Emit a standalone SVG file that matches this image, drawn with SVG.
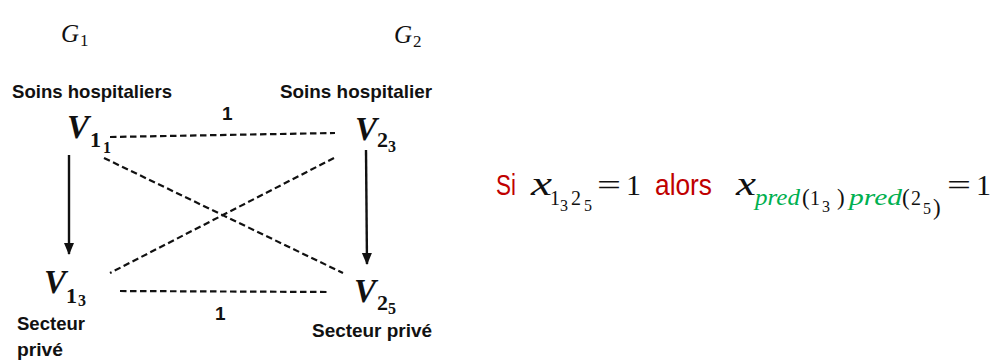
<svg xmlns="http://www.w3.org/2000/svg" width="997" height="361" viewBox="0 0 997 361">
<style>
.lab{font-family:"Liberation Sans",Arial,sans-serif;font-weight:bold;font-size:19px;fill:#111}
.m{font-family:"Liberation Serif","Times New Roman",serif;fill:#111}
.v{font-style:italic;font-weight:bold;font-size:33px}
.sb{font-weight:bold;font-size:22px}
.ssb{font-weight:bold;font-size:16px}
.g{font-style:italic;font-size:25px}
.gs{font-size:17px}
.red{font-family:"Liberation Sans",Arial,sans-serif;font-size:29px;fill:#c00000}
.gr{font-style:italic;fill:#00b050;font-size:23px}
.s1{font-size:20px}
.s2{font-size:16px}
.p{font-size:23px}
.dash{stroke:#111;stroke-width:2.2;stroke-dasharray:6.5 3.5;fill:none}
.arr{stroke:#111;stroke-width:2.4;fill:none}
</style>
<defs>
<marker id="ah" markerUnits="userSpaceOnUse" markerWidth="12" markerHeight="14" refX="11" refY="5" orient="auto" viewBox="0 0 12 10">
<path d="M0,0 L12,5 L0,10 z" fill="#111"/>
</marker>
</defs>
<g id="titles">
<text class="m g" x="61" y="42">G</text><text class="m gs" x="80" y="46">1</text>
<text class="m g" x="394" y="43">G</text><text class="m gs" x="413" y="47">2</text>
</g>
<g id="connectors">
<line class="dash" x1="110" y1="137" x2="335" y2="133"/>
<line class="dash" x1="120" y1="291" x2="330" y2="292"/>
<line class="dash" x1="104" y1="158" x2="343" y2="273"/>
<line class="dash" x1="334" y1="158" x2="110" y2="273"/>
<line class="arr" x1="69" y1="155" x2="69" y2="254" marker-end="url(#ah)"/>
<line class="arr" x1="366" y1="150" x2="367" y2="264" marker-end="url(#ah)"/>
<text class="lab" x="222" y="120" font-size="17">1</text>
<text class="lab" x="215" y="320" font-size="17">1</text>
</g>
<g id="n11">
<text class="lab" x="12" y="98" textLength="160" lengthAdjust="spacingAndGlyphs">Soins hospitaliers</text>
<text class="m v" x="67" y="138">V</text><text class="m sb" x="90" y="147">1</text><text class="m ssb" x="103" y="153">1</text>
</g>
<g id="n23">
<text class="lab" x="280" y="98" textLength="152" lengthAdjust="spacingAndGlyphs">Soins hospitalier</text>
<text class="m v" x="355" y="140">V</text><text class="m sb" x="377" y="147">2</text><text class="m ssb" x="388" y="152">3</text>
</g>
<g id="n13">
<text class="m v" x="44" y="293">V</text><text class="m sb" x="66" y="303">1</text><text class="m ssb" x="78" y="306">3</text>
<text class="lab" x="17" y="330" textLength="68" lengthAdjust="spacingAndGlyphs">Secteur</text>
<text class="lab" x="17" y="356" textLength="46" lengthAdjust="spacingAndGlyphs">privé</text>
</g>
<g id="n25">
<text class="m v" x="354" y="302">V</text><text class="m sb" x="377" y="310">2</text><text class="m ssb" x="388" y="314">5</text>
<text class="lab" x="312" y="337" textLength="120" lengthAdjust="spacingAndGlyphs">Secteur privé</text>
</g>
<g id="formula">
<text class="red" x="496" y="195" textLength="20" lengthAdjust="spacingAndGlyphs">Si</text>
<text class="m" x="531" y="195" font-size="34" font-style="italic" textLength="21" lengthAdjust="spacingAndGlyphs">x</text>
<text class="m s1" x="550" y="205">1</text>
<text class="m s2" x="560" y="211">3</text>
<text class="m s1" x="571" y="205">2</text>
<text class="m s2" x="584" y="211">5</text>
<text class="m" x="597" y="195" font-size="30" textLength="24" lengthAdjust="spacingAndGlyphs">=</text>
<text class="m" x="626" y="195" font-size="30">1</text>
<text class="red" x="655" y="195" textLength="57" lengthAdjust="spacingAndGlyphs">alors</text>
<text class="m" x="736" y="195" font-size="34" font-style="italic" textLength="20" lengthAdjust="spacingAndGlyphs">x</text>
<text class="m gr" x="755" y="205" textLength="45" lengthAdjust="spacingAndGlyphs">pred</text>
<text class="m p" x="802" y="205">(</text>
<text class="m s1" x="810" y="205">1</text>
<text class="m s2" x="822" y="212">3</text>
<text class="m p" x="837" y="205">)</text>
<text class="m gr" x="849" y="205" textLength="53" lengthAdjust="spacingAndGlyphs">pred</text>
<text class="m p" x="902" y="205">(</text>
<text class="m s1" x="911" y="205">2</text>
<text class="m s2" x="923" y="214">5</text>
<text class="m p" x="933" y="215">)</text>
<text class="m" x="947" y="195" font-size="30" textLength="24" lengthAdjust="spacingAndGlyphs">=</text>
<text class="m" x="976" y="195" font-size="30">1</text>
</g>
</svg>
